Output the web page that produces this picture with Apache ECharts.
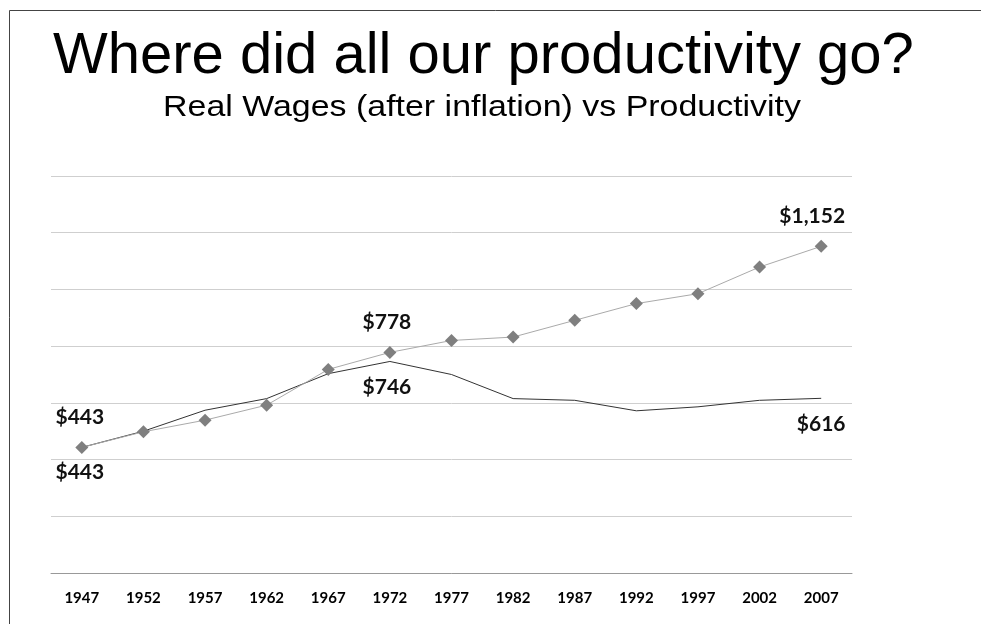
<!DOCTYPE html>
<html>
<head>
<meta charset="utf-8">
<script src="https://cdn.jsdelivr.net/npm/echarts@6/dist/echarts.min.js"></script>
<style>
html,body{margin:0;padding:0;background:#fff;}
#chart{width:981px;height:624px;}
</style>
</head>
<body>
<div id="chart"></div>
<script>
const years = ['1947','1952','1957','1962','1967','1972','1977','1982','1987','1992','1997','2002','2007'];
const productivity = [443, 498, 539, 592, 718, 778, 820, 832, 891, 950, 985, 1079, 1152];
const wages = [443, 500, 574, 615, 703, 746, 700, 615, 609, 572, 586, 609, 616];
const yTicks = [0, 200, 400, 600, 800, 1000, 1200, 1400];
const titleText = 'Where did all our productivity go?';
const subtitleText = 'Real Wages (after inflation) vs Productivity';

const labelFont = {fontFamily: 'Lato, "DejaVu Sans", sans-serif', fontWeight: 'bold', fontSize: 21, color: '#111'};
const fmt = v => '$' + v.toLocaleString('en-US');

function labeled(arr, map) {
  return arr.map((v, i) => {
    if (map[i]) {
      return {value: v, label: Object.assign({show: true, formatter: fmt(v)}, labelFont, map[i])};
    }
    return v;
  });
}

const chart = echarts.init(document.getElementById('chart'));
chart.setOption({
  animation: false,
  backgroundColor: '#fff',
  title: [
    {text: titleText, left: 48, top: 23,
     textStyle: {fontFamily: '"Liberation Sans", Arial, sans-serif', fontWeight: 'normal', fontSize: 58, color: '#000'}}
  ],
  graphic: [
    {type: 'rect', shape: {x: 9.5, y: 10.5, width: 1000, height: 700},
     style: {fill: 'none', stroke: '#444', lineWidth: 1}, silent: true, z: -1},
    {type: 'text', x: 482, y: 108, scaleX: 1.17, silent: true,
     style: {text: subtitleText, fontFamily: '"Liberation Sans", Arial, sans-serif', fontSize: 29, fill: '#000',
             align: 'center', verticalAlign: 'middle', textAlign: 'center', textVerticalAlign: 'middle'}}
  ],
  grid: {left: 51, right: 129, top: 176, bottom: 51, containLabel: false},
  xAxis: {
    type: 'category', data: years, boundaryGap: true,
    axisLine: {show: true, lineStyle: {color: '#999', width: 1}},
    axisTick: {show: false},
    axisLabel: {margin: 18, fontFamily: 'Lato, "DejaVu Sans Condensed", sans-serif', fontWeight: 'bold', fontSize: 15, color: '#000'}
  },
  yAxis: {
    type: 'value', min: yTicks[0], max: yTicks[yTicks.length - 1], interval: 200,
    axisLine: {show: false}, axisTick: {show: false}, axisLabel: {show: false},
    splitLine: {lineStyle: {color: '#cfcfcf', width: 1}}
  },
  series: [
    {
      name: 'Real Wages', type: 'line', data: labeled(wages, {
        0: {position: 'bottom', distance: 14, offset: [-2, 0]},
        5: {position: 'bottom', distance: 15, offset: [-3, 0]},
        12: {position: 'bottom', distance: 15}
      }),
      symbol: 'circle', symbolSize: 1,
      lineStyle: {color: '#333', width: 1}, itemStyle: {color: 'rgba(0,0,0,0)'}, z: 2
    },
    {
      name: 'Productivity', type: 'line', data: labeled(productivity, {
        0: {position: 'top', distance: 13.5, offset: [-2, 0]},
        5: {position: 'top', distance: 13.5, offset: [-3, 0]},
        12: {position: 'top', distance: 13, offset: [-9, 0]}
      }),
      symbol: 'diamond', symbolSize: 13,
      lineStyle: {color: '#aaa', width: 1}, itemStyle: {color: '#7f7f7f'}, z: 3
    }
  ]
});
</script>
</body>
</html>
